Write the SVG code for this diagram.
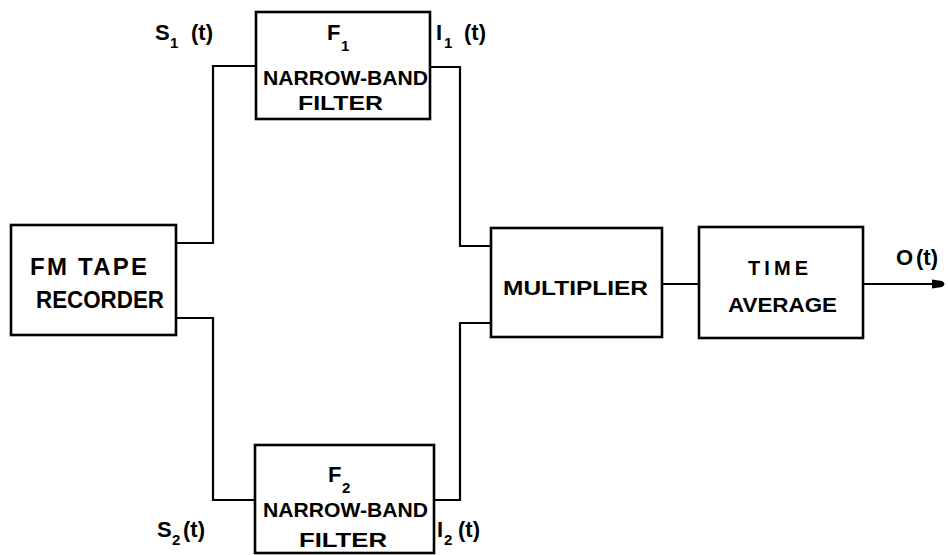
<svg xmlns="http://www.w3.org/2000/svg" width="948" height="555" viewBox="0 0 948 555">
<style>
.box{fill:#fff;stroke:#000;stroke-width:2.6}
.ln{fill:none;stroke:#000;stroke-width:2.2}
text{font-family:"Liberation Sans",Arial,sans-serif;font-weight:bold;fill:#000}
.t{font-size:20px;text-anchor:middle}
.big{font-size:24px}
.lab{font-size:22px}
.sub{font-size:15px}
</style>
<defs>
<marker id="arr" markerWidth="16" markerHeight="12" refX="2" refY="6" orient="auto" markerUnits="userSpaceOnUse">
<path d="M0,1.5 L10,3 Q15,6 10,9 L0,10.5 Z" fill="#000"/>
</marker>
</defs>
<rect width="948" height="555" fill="#fff"/>
<g id="connectors">
<path class="ln" d="M256,66 H213 V243 H176"/>
<path class="ln" d="M430,67 H460 V246 H491"/>
<path class="ln" d="M176,318 H213 V500 H255"/>
<path class="ln" d="M434,500 H460 V323 H491"/>
<path class="ln" d="M662,284 H699"/>
<path class="ln" d="M863,284 H934" marker-end="url(#arr)"/>
</g>
<g id="recorder">
<rect class="box" x="11" y="225" width="165" height="110"/>
<text class="big" x="30" y="275" textLength="117" lengthAdjust="spacing">FM TAPE</text>
<text class="big" x="36" y="308" textLength="128" lengthAdjust="spacingAndGlyphs">RECORDER</text>
</g>
<g id="filter1">
<rect class="box" x="256" y="12" width="174" height="107"/>
<text class="lab" x="327" y="40">F</text><text class="sub" x="341" y="51">1</text>
<text class="t" x="345.5" y="85" textLength="165" lengthAdjust="spacingAndGlyphs">NARROW-BAND</text>
<text class="t" x="340.5" y="110" textLength="85" lengthAdjust="spacingAndGlyphs">FILTER</text>
</g>
<g id="filter2">
<rect class="box" x="255" y="445" width="179" height="108"/>
<text class="lab" x="328" y="482">F</text><text class="sub" x="342" y="493">2</text>
<text class="t" x="345.5" y="517" textLength="165" lengthAdjust="spacingAndGlyphs">NARROW-BAND</text>
<text class="t" x="343" y="547" textLength="88" lengthAdjust="spacingAndGlyphs">FILTER</text>
</g>
<g id="multiplier">
<rect class="box" x="491" y="228" width="171" height="109"/>
<text class="t" x="575.5" y="295" textLength="145" lengthAdjust="spacingAndGlyphs">MULTIPLIER</text>
</g>
<g id="timeavg">
<rect class="box" x="699" y="227" width="164" height="111"/>
<text class="t" x="778" y="275" textLength="60" lengthAdjust="spacing">TIME</text>
<text class="t" x="782.5" y="312" textLength="109" lengthAdjust="spacingAndGlyphs">AVERAGE</text>
</g>
<g id="labels">
<text class="lab" x="155" y="40">S</text><text class="sub" x="170" y="48">1</text><text class="lab" x="191" y="40">(t)</text>
<text class="lab" x="436" y="40">I</text><text class="sub" x="444" y="48">1</text><text class="lab" x="464" y="40">(t)</text>
<text class="lab" x="157" y="537">S</text><text class="sub" x="172" y="545">2</text><text class="lab" x="183" y="537">(t)</text>
<text class="lab" x="437" y="537">I</text><text class="sub" x="444" y="545">2</text><text class="lab" x="458" y="537">(t)</text>
<text class="lab" x="896" y="265">O</text><text class="lab" x="916" y="265">(t)</text>
</g>
</svg>
